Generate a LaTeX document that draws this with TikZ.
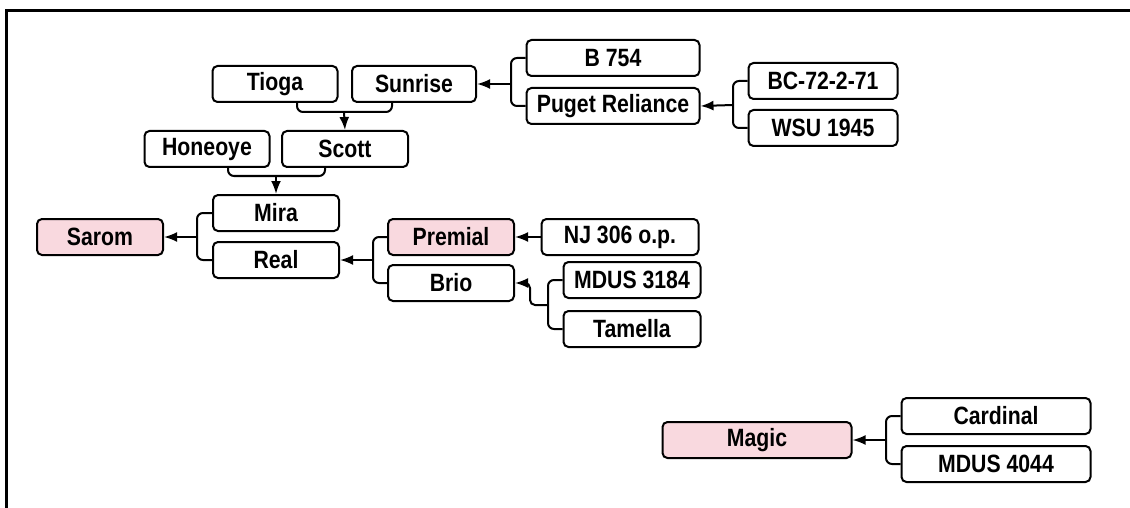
\documentclass[tikz,border=0pt]{standalone}
\usepackage{fontspec}
\setmainfont{Liberation Sans}[FakeStretch=0.85]
\usetikzlibrary{arrows.meta,calc}
\definecolor{pinkfill}{RGB}{249,217,223}
\tikzset{
  box/.style={draw=black, line width=2pt, rounded corners=5pt, fill=white,
    minimum height=36pt, inner sep=0pt, font=\fontsize{25}{28}\selectfont\bfseries},
  pbox/.style={box, fill=pinkfill},
  conn/.style={draw=black, line width=2pt, rounded corners=6pt},
  arr/.style={draw=black, line width=2pt, -{Latex[length=13pt,width=10pt]}},
}
\begin{document}
\begin{tikzpicture}[x=1pt,y=-1pt]
\useasboundingbox (0,0) rectangle (1130,508);
\draw[line width=3pt] (6,520) -- (6,11) -- (1140,11);

% nodes
\node[box, minimum width=125pt] (tioga) at (275,84) {Tioga};
\node[box, minimum width=124pt] (sunrise) at (414,84) {Sunrise};
\node[box, minimum width=125pt] (honeoye) at (207,149) {Honeoye};
\node[box, minimum width=126pt] (scott) at (345,149) {Scott};
\node[box, minimum width=126pt] (mira) at (276,213) {Mira};
\node[box, minimum width=126pt] (real) at (276,260) {Real};
\node[pbox, minimum width=126pt] (sarom) at (100,237) {Sarom};
\node[pbox, minimum width=126pt] (premial) at (451,237) {Premial};
\node[box, minimum width=126pt] (brio) at (451,283) {Brio};
\node[box, minimum width=157pt] (nj) at (620,237) {NJ 306 o.p.};
\node[box, minimum width=137pt] (mdus3184) at (632,280) {MDUS 3184};
\node[box, minimum width=137pt] (tamella) at (632,329) {Tamella};
\node[box, minimum width=173pt] (b754) at (613,58) {B 754};
\node[box, minimum width=173pt] (puget) at (613,106) {Puget Reliance};
\node[box, minimum width=149pt] (bc) at (823,81) {BC-72-2-71};
\node[box, minimum width=149pt] (wsu) at (823,128) {WSU 1945};
\node[pbox, minimum width=189pt] (magic) at (757,440) {Magic};
\node[box, minimum width=189pt] (cardinal) at (996,416) {Cardinal};
\node[box, minimum width=189pt] (mdus4044) at (996,464) {MDUS 4044};

% junctions
\coordinate (j1) at (344,112);
\coordinate (j2) at (276,176);
\coordinate (j3) at (197,237);
\coordinate (j4) at (373,260);
\coordinate (j5) at (548,305);
\coordinate (j6) at (511,84);
\coordinate (j7) at (733,105);
\coordinate (j8) at (886,440);

% Tioga + Sunrise -> Scott
\draw[conn] ($(tioga.south)+(22,0)$) |- (j1) -| ($(sunrise.south)+(-22,0)$);
\draw[arr] (j1) -- (scott.north);
% Honeoye + Scott -> Mira
\draw[conn] ($(honeoye.south)+(21,0)$) |- (j2) -| ($(scott.south)+(-20,0)$);
\draw[arr] (j2) -- (mira.north);
% Mira + Real -> Sarom
\draw[conn] (mira.west) -| (j3) |- (real.west);
\draw[arr] (j3) -- (sarom.east);
% Premial + Brio -> Real
\draw[conn] (premial.west) -| (j4) |- (brio.west);
\draw[arr] (j4) -- (real.east);
% NJ -> Premial
\draw[arr] (nj.west) -- (premial.east);
% MDUS 3184 + Tamella -> Brio
\draw[conn] (mdus3184.west) -| (j5) |- (tamella.west);
\draw[conn, arr, rounded corners=5pt] (j5) -- ($(j5)+(-18,0)$) |- (brio.east);
% B 754 + Puget -> Sunrise
\draw[conn] (b754.west) -| (j6) |- (puget.west);
\draw[arr] (j6) -- (sunrise.east);
% BC + WSU -> Puget
\draw[conn] (bc.west) -| (j7) |- (wsu.west);
\draw[arr] (j7) -- (puget.east);
% Cardinal + MDUS 4044 -> Magic
\draw[conn] (cardinal.west) -| (j8) |- (mdus4044.west);
\draw[arr] (j8) -- (magic.east);
\end{tikzpicture}
\end{document}
